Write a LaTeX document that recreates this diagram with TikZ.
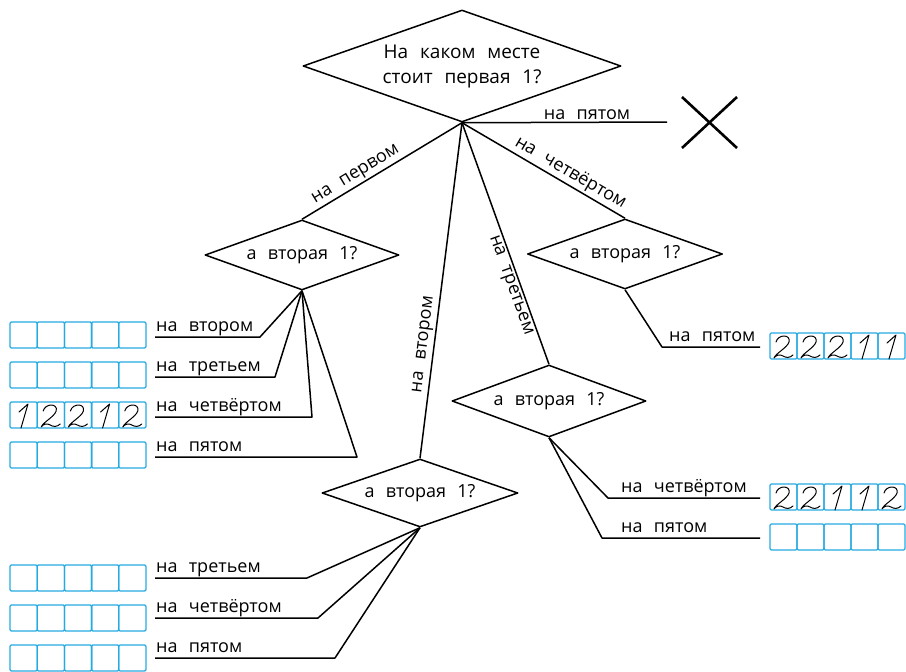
\documentclass[tikz,border=0pt]{standalone}
\usepackage{fontspec}
\setmainfont{Open Sans}[WordSpace=2.4]
\usetikzlibrary{shapes.geometric}
\definecolor{cellblue}{RGB}{38,170,226}

% five answer cells: left x, top y, cell width
\newcommand\cellrow[3]{%
  \foreach \k in {0,...,4}{\draw[cell] ({#1+\k*#3},#2) rectangle ++(#3,26);}}

\tikzset{
  pics/hand1/.style={code={\draw[digit] (9,10) -- (18,2) -- (11,26);}},
  pics/hand2/.style={code={\draw[digit] (6,9) .. controls (8,1) and (21,1) .. (19,9)
      .. controls (17,15) and (6,20) .. (4,25) .. controls (6,22) and (10,21) .. (13,23)
      .. controls (16,25) and (20,25) .. (23,22);}}
}

\begin{document}
\begin{tikzpicture}[x=1pt, y=-1pt, line join=round,
  link/.style={line width=1.5pt},
  question/.style={diamond, aspect=2.8, draw, line width=1.5pt, inner sep=0pt,
    font=\fontsize{18}{22}\selectfont, align=center},
  branch/.style={font=\fontsize{18}{20}\selectfont, inner sep=2pt},
  rowlabel/.style={font=\fontsize{18}{20}\selectfont, anchor=base west, inner sep=0pt},
  cell/.style={draw=cellblue, line width=1.3pt, rounded corners=1.2pt},
  digit/.style={line width=1pt, line cap=round}]

\useasboundingbox (0,0) rectangle (906,672);

% decision diamonds
\node[question, minimum width=318pt, minimum height=112pt,
  font=\fontsize{19}{25}\selectfont] (top) at (462,66)
  {На каком месте\\стоит первая 1?};
\node[question, minimum width=194pt, minimum height=70pt] (d1) at (302,255) {а вторая 1?};
\node[question, minimum width=195pt, minimum height=70pt] (d2) at (625,254) {а вторая 1?};
\node[question, minimum width=194pt, minimum height=72pt] (d3) at (549,401) {а вторая 1?};
\node[question, minimum width=196pt, minimum height=68pt] (d4) at (420,493) {а вторая 1?};

% first 1 on the fifth place: impossible
\coordinate (fifth) at (667,122);
\draw[link] (top.south) -- node[branch, above, pos=0.61] (t5) {на пятом} (fifth);
\draw[line width=2.6pt] (682,97) -- (737,148) (682,148) -- (737,97);

% branches of the first question
\draw[link] (d1.north) -- node[branch, sloped, above, pos=0.37] (t1) {на первом} (top.south);
\draw[link] (d4.north) -- node[branch, sloped, above, pos=0.335] (t2) {на втором} (top.south);
\draw[link] (top.south) -- node[branch, sloped, below, pos=0.66] (t3) {на третьем} (d3.north);
\draw[link] (top.south) -- node[branch, sloped, above, pos=0.63] (t4) {на четвёртом} (d2.north);

% answers after "на первом"
\foreach \ly/\cx/\txt/\bt [count=\i] in
  {337/260/на втором/322, 377/275/на третьем/362,
   417/312/на четвёртом/402, 457/357/на пятом/442} {
  \coordinate (A\i-bend) at (\cx,\ly);
  \coordinate (A\i-end) at (155,\ly);
  \draw[link] (d1.south) -- (A\i-bend) -- (A\i-end);
  \node[rowlabel] (A\i-text) at (156,{\ly-6}) {\txt};
  \cellrow{10}{\bt}{27.2}
}
\foreach \d [count=\k from 0] in {1,2,2,1,2}
  \pic at ({10+\k*27.2},402) {hand\d};

% answers after "на втором"
\foreach \ly/\cx/\txt/\bt [count=\i] in
  {578/307/на третьем/565, 618/318/на четвёртом/605, 658/335/на пятом/645} {
  \coordinate (B\i-bend) at (\cx,\ly);
  \coordinate (B\i-end) at (155,\ly);
  \draw[link] (d4.south) -- (B\i-bend) -- (B\i-end);
  \node[rowlabel] (B\i-text) at (156,{\ly-6}) {\txt};
  \cellrow{10}{\bt}{27.2}
}

% answers after "на третьем"
\foreach \ly/\cx/\txt/\bt [count=\i] in
  {498/608/на четвёртом/484, 538/602/на пятом/524} {
  \coordinate (C\i-bend) at (\cx,\ly);
  \coordinate (C\i-end) at (760,\ly);
  \draw[link] (d3.south) -- (C\i-bend) -- (C\i-end);
  \node[rowlabel] (C\i-text) at (621,{\ly-6}) {\txt};
  \cellrow{770}{\bt}{27}
}
\foreach \d [count=\k from 0] in {2,2,1,1,2}
  \pic at ({770+\k*27},484) {hand\d};

% answer after "на четвёртом"
\coordinate (D1-bend) at (662,347);
\coordinate (D1-end) at (760,347);
\draw[link] (d2.south) -- (D1-bend) -- (D1-end);
\node[rowlabel] (D1-text) at (669,341) {на пятом};
\cellrow{770}{333}{27}
\foreach \d [count=\k from 0] in {2,2,2,1,1}
  \pic at ({770+\k*27},333) {hand\d};

\end{tikzpicture}
\end{document}
